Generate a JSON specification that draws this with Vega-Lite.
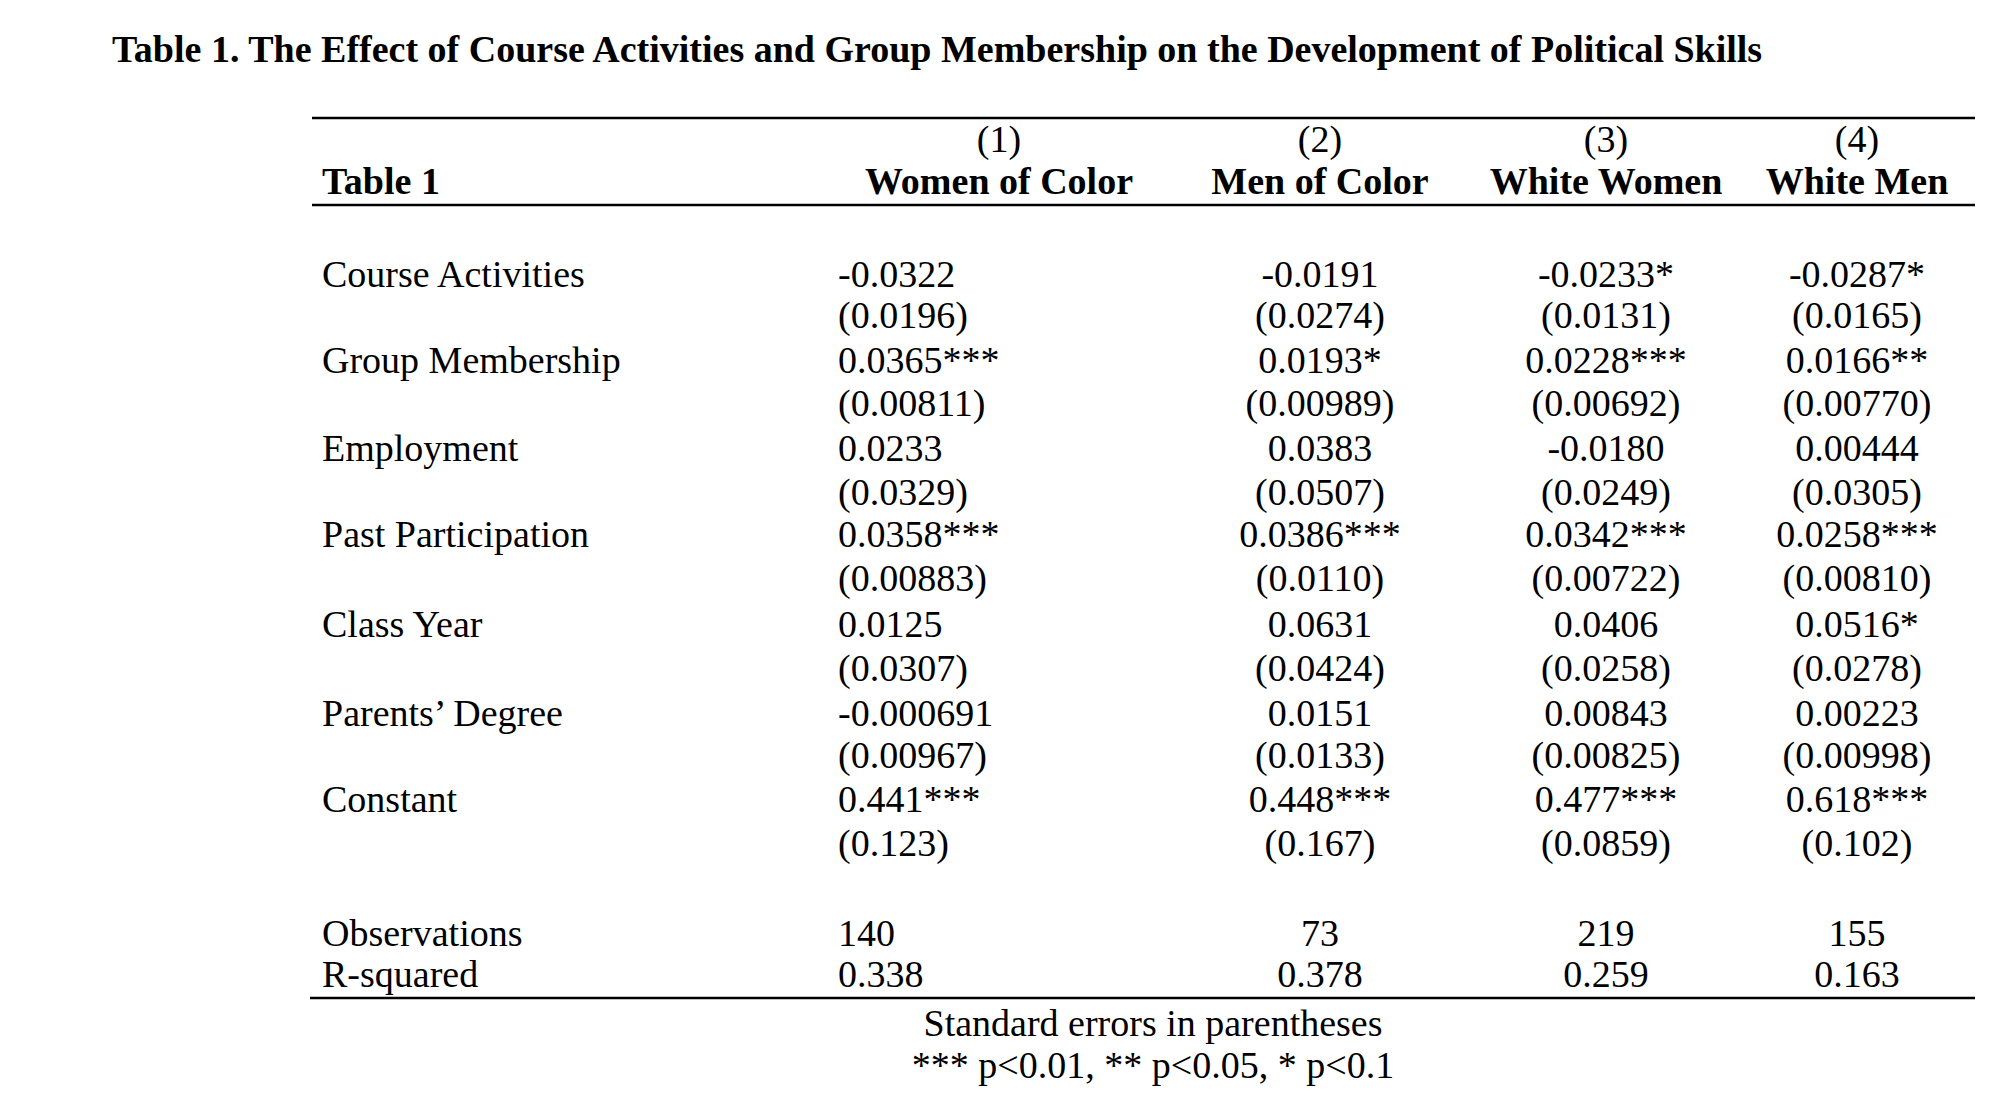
{
  "$schema": "https://vega.github.io/schema/vega-lite/v6.json",
  "width": 2002,
  "height": 1108,
  "padding": 0,
  "autosize": {"type": "none"},
  "background": "white",
  "config": {"view": {"stroke": null}},
  "datasets": {
    "cells": [
      {"t": "Table 1. The Effect of Course Activities and Group Membership on the Development of Political Skills", "c": 112, "r": 51, "k": "titleL"},
      {"t": "(1)", "c": 999, "r": 141, "k": "C"},
      {"t": "(2)", "c": 1320, "r": 141, "k": "C"},
      {"t": "(3)", "c": 1606, "r": 141, "k": "C"},
      {"t": "(4)", "c": 1857, "r": 141, "k": "C"},
      {"t": "Table 1", "c": 322, "r": 183, "k": "BL"},
      {"t": "Women of Color", "c": 999, "r": 183, "k": "BC"},
      {"t": "Men of Color", "c": 1320, "r": 183, "k": "BC"},
      {"t": "White Women", "c": 1606, "r": 183, "k": "BC"},
      {"t": "White Men", "c": 1857, "r": 183, "k": "BC"},

      {"t": "Course Activities", "c": 322, "r": 276, "k": "L"},
      {"t": "-0.0322", "c": 838, "r": 276, "k": "L"},
      {"t": "-0.0191", "c": 1320, "r": 276, "k": "C"},
      {"t": "-0.0233*", "c": 1606, "r": 276, "k": "C"},
      {"t": "-0.0287*", "c": 1857, "r": 276, "k": "C"},
      {"t": "(0.0196)", "c": 838, "r": 317, "k": "L"},
      {"t": "(0.0274)", "c": 1320, "r": 317, "k": "C"},
      {"t": "(0.0131)", "c": 1606, "r": 317, "k": "C"},
      {"t": "(0.0165)", "c": 1857, "r": 317, "k": "C"},

      {"t": "Group Membership", "c": 322, "r": 362, "k": "L"},
      {"t": "0.0365***", "c": 838, "r": 362, "k": "L"},
      {"t": "0.0193*", "c": 1320, "r": 362, "k": "C"},
      {"t": "0.0228***", "c": 1606, "r": 362, "k": "C"},
      {"t": "0.0166**", "c": 1857, "r": 362, "k": "C"},
      {"t": "(0.00811)", "c": 838, "r": 405, "k": "L"},
      {"t": "(0.00989)", "c": 1320, "r": 405, "k": "C"},
      {"t": "(0.00692)", "c": 1606, "r": 405, "k": "C"},
      {"t": "(0.00770)", "c": 1857, "r": 405, "k": "C"},

      {"t": "Employment", "c": 322, "r": 450, "k": "L"},
      {"t": "0.0233", "c": 838, "r": 450, "k": "L"},
      {"t": "0.0383", "c": 1320, "r": 450, "k": "C"},
      {"t": "-0.0180", "c": 1606, "r": 450, "k": "C"},
      {"t": "0.00444", "c": 1857, "r": 450, "k": "C"},
      {"t": "(0.0329)", "c": 838, "r": 494, "k": "L"},
      {"t": "(0.0507)", "c": 1320, "r": 494, "k": "C"},
      {"t": "(0.0249)", "c": 1606, "r": 494, "k": "C"},
      {"t": "(0.0305)", "c": 1857, "r": 494, "k": "C"},

      {"t": "Past Participation", "c": 322, "r": 536, "k": "L"},
      {"t": "0.0358***", "c": 838, "r": 536, "k": "L"},
      {"t": "0.0386***", "c": 1320, "r": 536, "k": "C"},
      {"t": "0.0342***", "c": 1606, "r": 536, "k": "C"},
      {"t": "0.0258***", "c": 1857, "r": 536, "k": "C"},
      {"t": "(0.00883)", "c": 838, "r": 580, "k": "L"},
      {"t": "(0.0110)", "c": 1320, "r": 580, "k": "C"},
      {"t": "(0.00722)", "c": 1606, "r": 580, "k": "C"},
      {"t": "(0.00810)", "c": 1857, "r": 580, "k": "C"},

      {"t": "Class Year", "c": 322, "r": 626, "k": "L"},
      {"t": "0.0125", "c": 838, "r": 626, "k": "L"},
      {"t": "0.0631", "c": 1320, "r": 626, "k": "C"},
      {"t": "0.0406", "c": 1606, "r": 626, "k": "C"},
      {"t": "0.0516*", "c": 1857, "r": 626, "k": "C"},
      {"t": "(0.0307)", "c": 838, "r": 670, "k": "L"},
      {"t": "(0.0424)", "c": 1320, "r": 670, "k": "C"},
      {"t": "(0.0258)", "c": 1606, "r": 670, "k": "C"},
      {"t": "(0.0278)", "c": 1857, "r": 670, "k": "C"},

      {"t": "Parents’ Degree", "c": 322, "r": 715, "k": "L"},
      {"t": "-0.000691", "c": 838, "r": 715, "k": "L"},
      {"t": "0.0151", "c": 1320, "r": 715, "k": "C"},
      {"t": "0.00843", "c": 1606, "r": 715, "k": "C"},
      {"t": "0.00223", "c": 1857, "r": 715, "k": "C"},
      {"t": "(0.00967)", "c": 838, "r": 757, "k": "L"},
      {"t": "(0.0133)", "c": 1320, "r": 757, "k": "C"},
      {"t": "(0.00825)", "c": 1606, "r": 757, "k": "C"},
      {"t": "(0.00998)", "c": 1857, "r": 757, "k": "C"},

      {"t": "Constant", "c": 322, "r": 801, "k": "L"},
      {"t": "0.441***", "c": 838, "r": 801, "k": "L"},
      {"t": "0.448***", "c": 1320, "r": 801, "k": "C"},
      {"t": "0.477***", "c": 1606, "r": 801, "k": "C"},
      {"t": "0.618***", "c": 1857, "r": 801, "k": "C"},
      {"t": "(0.123)", "c": 838, "r": 845, "k": "L"},
      {"t": "(0.167)", "c": 1320, "r": 845, "k": "C"},
      {"t": "(0.0859)", "c": 1606, "r": 845, "k": "C"},
      {"t": "(0.102)", "c": 1857, "r": 845, "k": "C"},

      {"t": "Observations", "c": 322, "r": 935, "k": "L"},
      {"t": "140", "c": 838, "r": 935, "k": "L"},
      {"t": "73", "c": 1320, "r": 935, "k": "C"},
      {"t": "219", "c": 1606, "r": 935, "k": "C"},
      {"t": "155", "c": 1857, "r": 935, "k": "C"},
      {"t": "R-squared", "c": 322, "r": 976, "k": "L"},
      {"t": "0.338", "c": 838, "r": 976, "k": "L"},
      {"t": "0.378", "c": 1320, "r": 976, "k": "C"},
      {"t": "0.259", "c": 1606, "r": 976, "k": "C"},
      {"t": "0.163", "c": 1857, "r": 976, "k": "C"},

      {"t": "Standard errors in parentheses", "c": 1153, "r": 1025, "k": "C"},
      {"t": "*** p<0.01, ** p<0.05, * p<0.1", "c": 1153, "r": 1067, "k": "C"}
    ],
    "rules": [
      {"x1": 312, "x2": 1975, "r": 118},
      {"x1": 312, "x2": 1975, "r": 205},
      {"x1": 310, "x2": 1975, "r": 998}
    ]
  },
  "layer": [
    {
      "data": {"name": "rules"},
      "mark": {"type": "rule", "color": "black", "strokeWidth": 2.5},
      "encoding": {
        "x": {"field": "x1", "type": "quantitative", "scale": {"domain": [0, 2002]}, "axis": null},
        "x2": {"field": "x2"},
        "y": {"field": "r", "type": "quantitative", "scale": {"domain": [0, 1108], "reverse": true}, "axis": null}
      }
    },
    {
      "data": {"name": "cells"},
      "transform": [{"filter": "datum.k == 'L'"}],
      "mark": {"type": "text", "align": "left", "baseline": "middle", "font": "Liberation Serif", "fontSize": 38, "color": "black"},
      "encoding": {
        "x": {"field": "c", "type": "quantitative", "scale": {"domain": [0, 2002]}, "axis": null},
        "y": {"field": "r", "type": "quantitative", "scale": {"domain": [0, 1108], "reverse": true}, "axis": null},
        "text": {"field": "t"}
      }
    },
    {
      "data": {"name": "cells"},
      "transform": [{"filter": "datum.k == 'C'"}],
      "mark": {"type": "text", "align": "center", "baseline": "middle", "font": "Liberation Serif", "fontSize": 38, "color": "black"},
      "encoding": {
        "x": {"field": "c", "type": "quantitative", "scale": {"domain": [0, 2002]}, "axis": null},
        "y": {"field": "r", "type": "quantitative", "scale": {"domain": [0, 1108], "reverse": true}, "axis": null},
        "text": {"field": "t"}
      }
    },
    {
      "data": {"name": "cells"},
      "transform": [{"filter": "datum.k == 'BL' || datum.k == 'titleL'"}],
      "mark": {"type": "text", "align": "left", "baseline": "middle", "font": "Liberation Serif", "fontSize": 38, "fontWeight": "bold", "color": "black"},
      "encoding": {
        "x": {"field": "c", "type": "quantitative", "scale": {"domain": [0, 2002]}, "axis": null},
        "y": {"field": "r", "type": "quantitative", "scale": {"domain": [0, 1108], "reverse": true}, "axis": null},
        "text": {"field": "t"}
      }
    },
    {
      "data": {"name": "cells"},
      "transform": [{"filter": "datum.k == 'BC'"}],
      "mark": {"type": "text", "align": "center", "baseline": "middle", "font": "Liberation Serif", "fontSize": 38, "fontWeight": "bold", "color": "black"},
      "encoding": {
        "x": {"field": "c", "type": "quantitative", "scale": {"domain": [0, 2002]}, "axis": null},
        "y": {"field": "r", "type": "quantitative", "scale": {"domain": [0, 1108], "reverse": true}, "axis": null},
        "text": {"field": "t"}
      }
    }
  ]
}
